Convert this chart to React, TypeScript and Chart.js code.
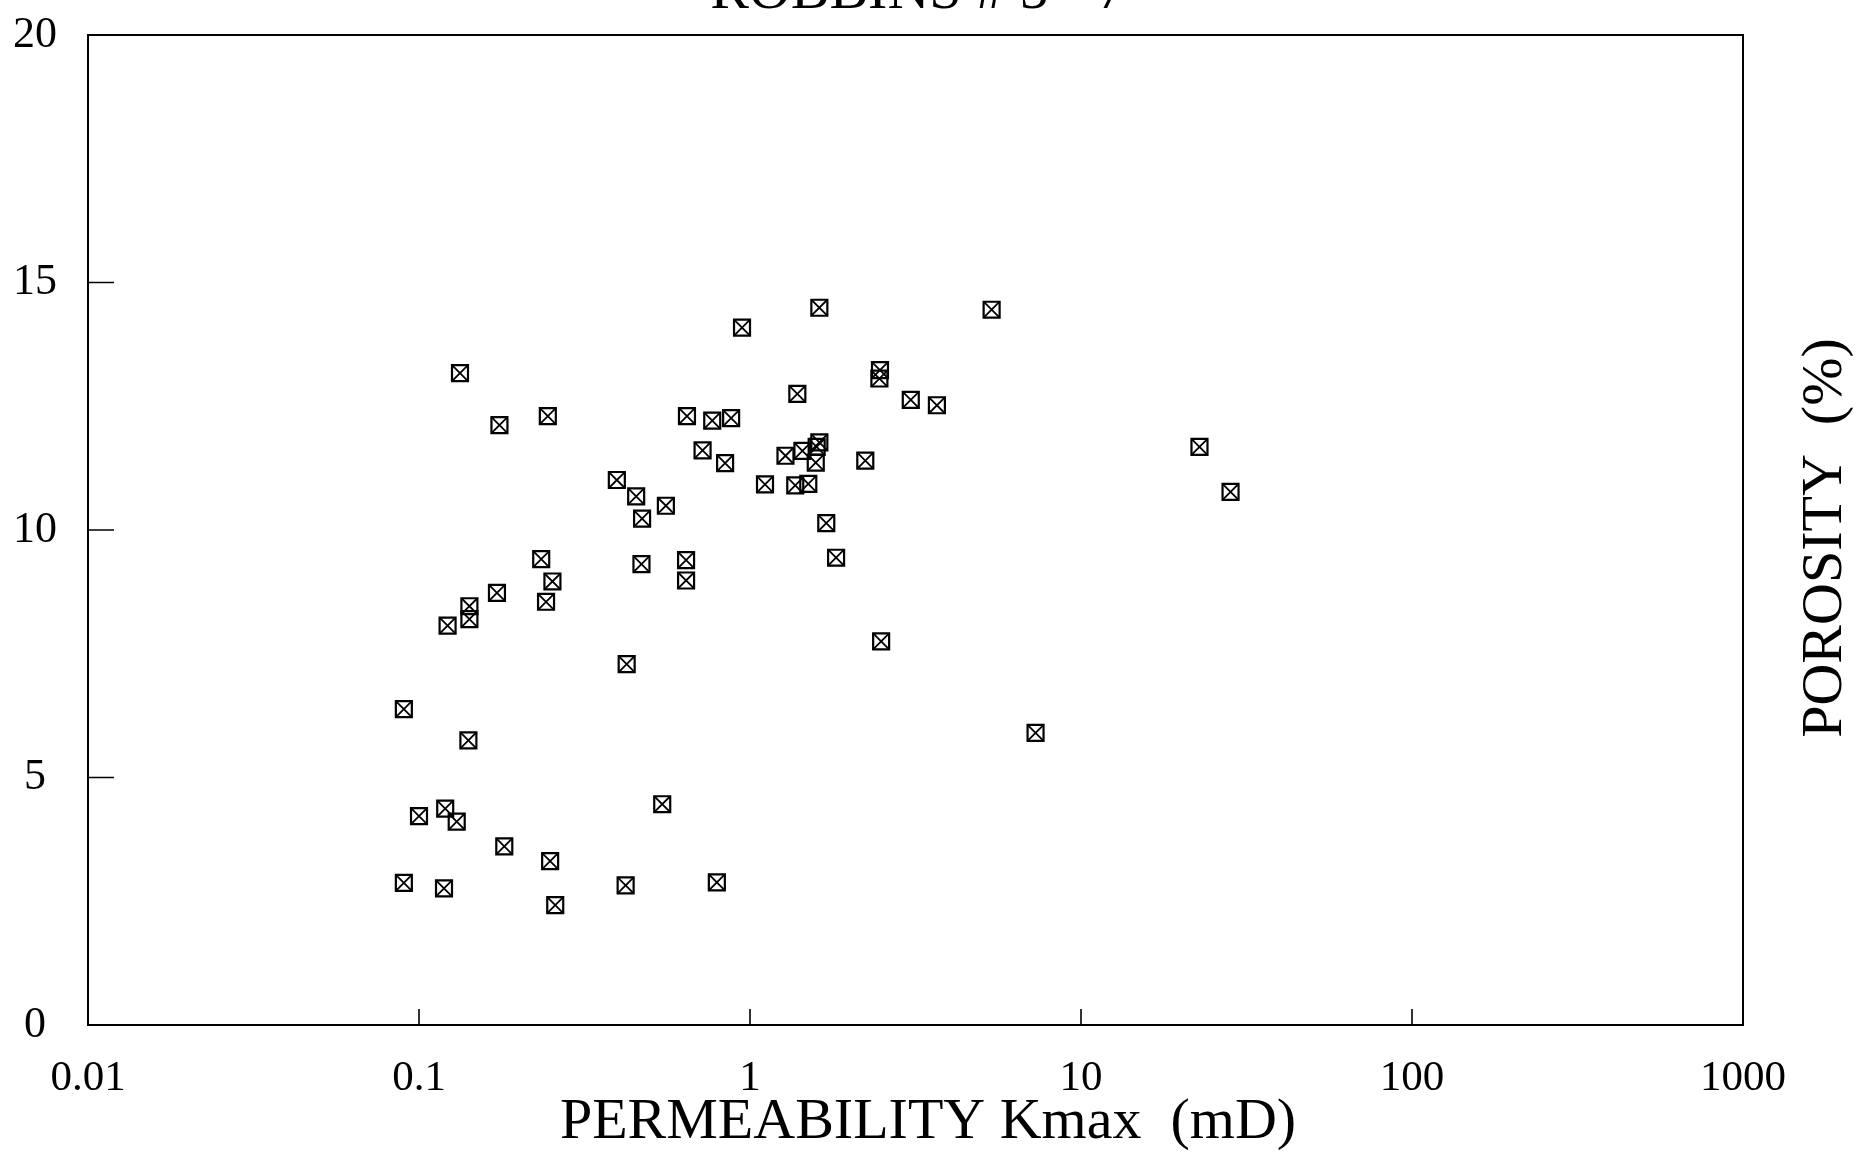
import React, { useEffect, useRef } from "react";
import { Chart, registerables } from "chart.js";

Chart.register(...registerables);

// Permeability Kmax (mD) and porosity (%)
const permeability = [
  0.133, 0.175, 0.245, 0.946, 1.62, 5.37, 1.39, 2.47, 2.46, 3.06,
  3.67, 0.645, 0.769, 0.877, 0.719, 0.841, 1.28, 1.44, 1.62, 1.59,
  1.58, 1.11, 1.37, 1.5, 2.23, 22.8, 28.3, 0.396, 0.453, 0.557,
  0.472, 1.7, 0.234, 0.253, 0.47, 0.641, 0.641, 1.82, 0.172, 0.142,
  0.142, 0.122, 0.242, 0.424, 2.49, 0.09, 0.141, 7.29, 0.1, 0.12,
  0.13, 0.181, 0.543, 0.249, 0.09, 0.119, 0.421, 0.794, 0.258,
];
const porosity = [
  13.17, 12.12, 12.3, 14.09, 14.49, 14.45, 12.75, 13.23, 13.06, 12.63,
  12.52, 12.3, 12.21, 12.26, 11.61, 11.35, 11.5, 11.6, 11.77, 11.68,
  11.36, 10.92, 10.9, 10.93, 11.4, 11.68, 10.77, 11.01, 10.68, 10.49,
  10.23, 10.14, 9.41, 8.96, 9.31, 9.39, 8.98, 9.44, 8.73, 8.46,
  8.2, 8.07, 8.55, 7.29, 7.75, 6.38, 5.75, 5.9, 4.22, 4.37,
  4.11, 3.61, 4.46, 3.31, 2.87, 2.76, 2.82, 2.88, 2.42,
];

const xTickValues = [0.01, 0.1, 1, 10, 100, 1000];
const yTickValues = [0, 5, 10, 15, 20];
const innerXTicks = [0.1, 1, 10, 100];
const innerYTicks = [5, 10, 15];

const chartTitle = "ROBBINS # 5 - 7";
const xTitle = "PERMEABILITY Kmax  (mD)";
const yTitle = "POROSITY  (%)";

const FONT = '"Liberation Serif", "Times New Roman", serif';

export default function App() {
  const ref = useRef<HTMLCanvasElement>(null);

  useEffect(() => {
    if (!ref.current) return;
    const points = permeability.map((x, i) => ({ x, y: porosity[i] }));

    const framePlugin = {
      id: "frame",
      afterDraw(chart: any) {
        const { ctx, chartArea: a, scales } = chart;
        ctx.save();
        ctx.strokeStyle = "#000";
        ctx.lineWidth = 2;
        ctx.strokeRect(a.left, a.top, a.right - a.left, a.bottom - a.top);
        ctx.lineWidth = 1.6;
        ctx.beginPath();
        innerYTicks.forEach((v) => {
          const y = scales.y.getPixelForValue(v);
          ctx.moveTo(a.left, y);
          ctx.lineTo(a.left + 26, y);
        });
        innerXTicks.forEach((v) => {
          const x = scales.x.getPixelForValue(v);
          ctx.moveTo(x, a.bottom);
          ctx.lineTo(x, a.bottom - 16);
        });
        ctx.stroke();

        ctx.fillStyle = "#000";
        ctx.font = `58px ${FONT}`;
        ctx.textAlign = "center";
        ctx.textBaseline = "alphabetic";
        ctx.fillText(chartTitle, 918, 8);
        ctx.fillText(xTitle, 928, 1138);

        ctx.translate(1841, 538);
        ctx.rotate(-Math.PI / 2);
        ctx.fillText(yTitle, 0, 0);
        ctx.restore();
      },
    };

    const chart = new Chart(ref.current, {
      type: "scatter",
      data: {
        datasets: [
          {
            data: points,
            pointStyle: "rect",
            pointRadius: 11.3,
            pointBorderWidth: 2.2,
            borderColor: "#000",
            backgroundColor: "rgba(0,0,0,0)",
          },
          {
            data: points,
            pointStyle: "crossRot",
            pointRadius: 11.3,
            pointBorderWidth: 1.8,
            borderColor: "#000",
            backgroundColor: "rgba(0,0,0,0)",
          },
        ],
      },
      options: {
        responsive: false,
        animation: false,
        events: [],
        layout: { padding: { left: 0, top: 35, right: 120, bottom: 0 } },
        plugins: {
          legend: { display: false },
          tooltip: { enabled: false },
          title: { display: false },
        },
        scales: {
          x: {
            type: "logarithmic",
            min: 0.01,
            max: 1000,
            afterBuildTicks: (s: any) => {
              s.ticks = xTickValues.map((v) => ({ value: v }));
            },
            afterFit: (s: any) => {
              s.height = 133;
              s.paddingLeft = 0;
              s.paddingRight = 0;
            },
            grid: { display: false, drawTicks: false },
            border: { display: false },
            ticks: {
              autoSkip: false,
              maxRotation: 0,
              padding: 28,
              color: "#000",
              font: { family: FONT, size: 43 },
              callback: (v: any) => String(v),
            },
          },
          y: {
            type: "linear",
            min: 0,
            max: 20,
            afterBuildTicks: (s: any) => {
              s.ticks = yTickValues.map((v) => ({ value: v }));
            },
            afterFit: (s: any) => {
              s.width = 88;
              s.paddingTop = 0;
              s.paddingBottom = 0;
            },
            grid: { display: false, drawTicks: false },
            border: { display: false },
            ticks: {
              crossAlign: "center",
              padding: 31,
              color: "#000",
              font: { family: FONT, size: 44 },
              callback: (v: any) => String(v),
            },
          },
        },
      },
      plugins: [framePlugin],
    });

    return () => chart.destroy();
  }, []);

  return (
    <div
      style={{
        position: "absolute",
        left: 0,
        top: 0,
        width: 1863,
        height: 1158,
        background: "#fff",
      }}
    >
      <canvas ref={ref} width={1863} height={1158} style={{ display: "block" }} />
    </div>
  );
}
